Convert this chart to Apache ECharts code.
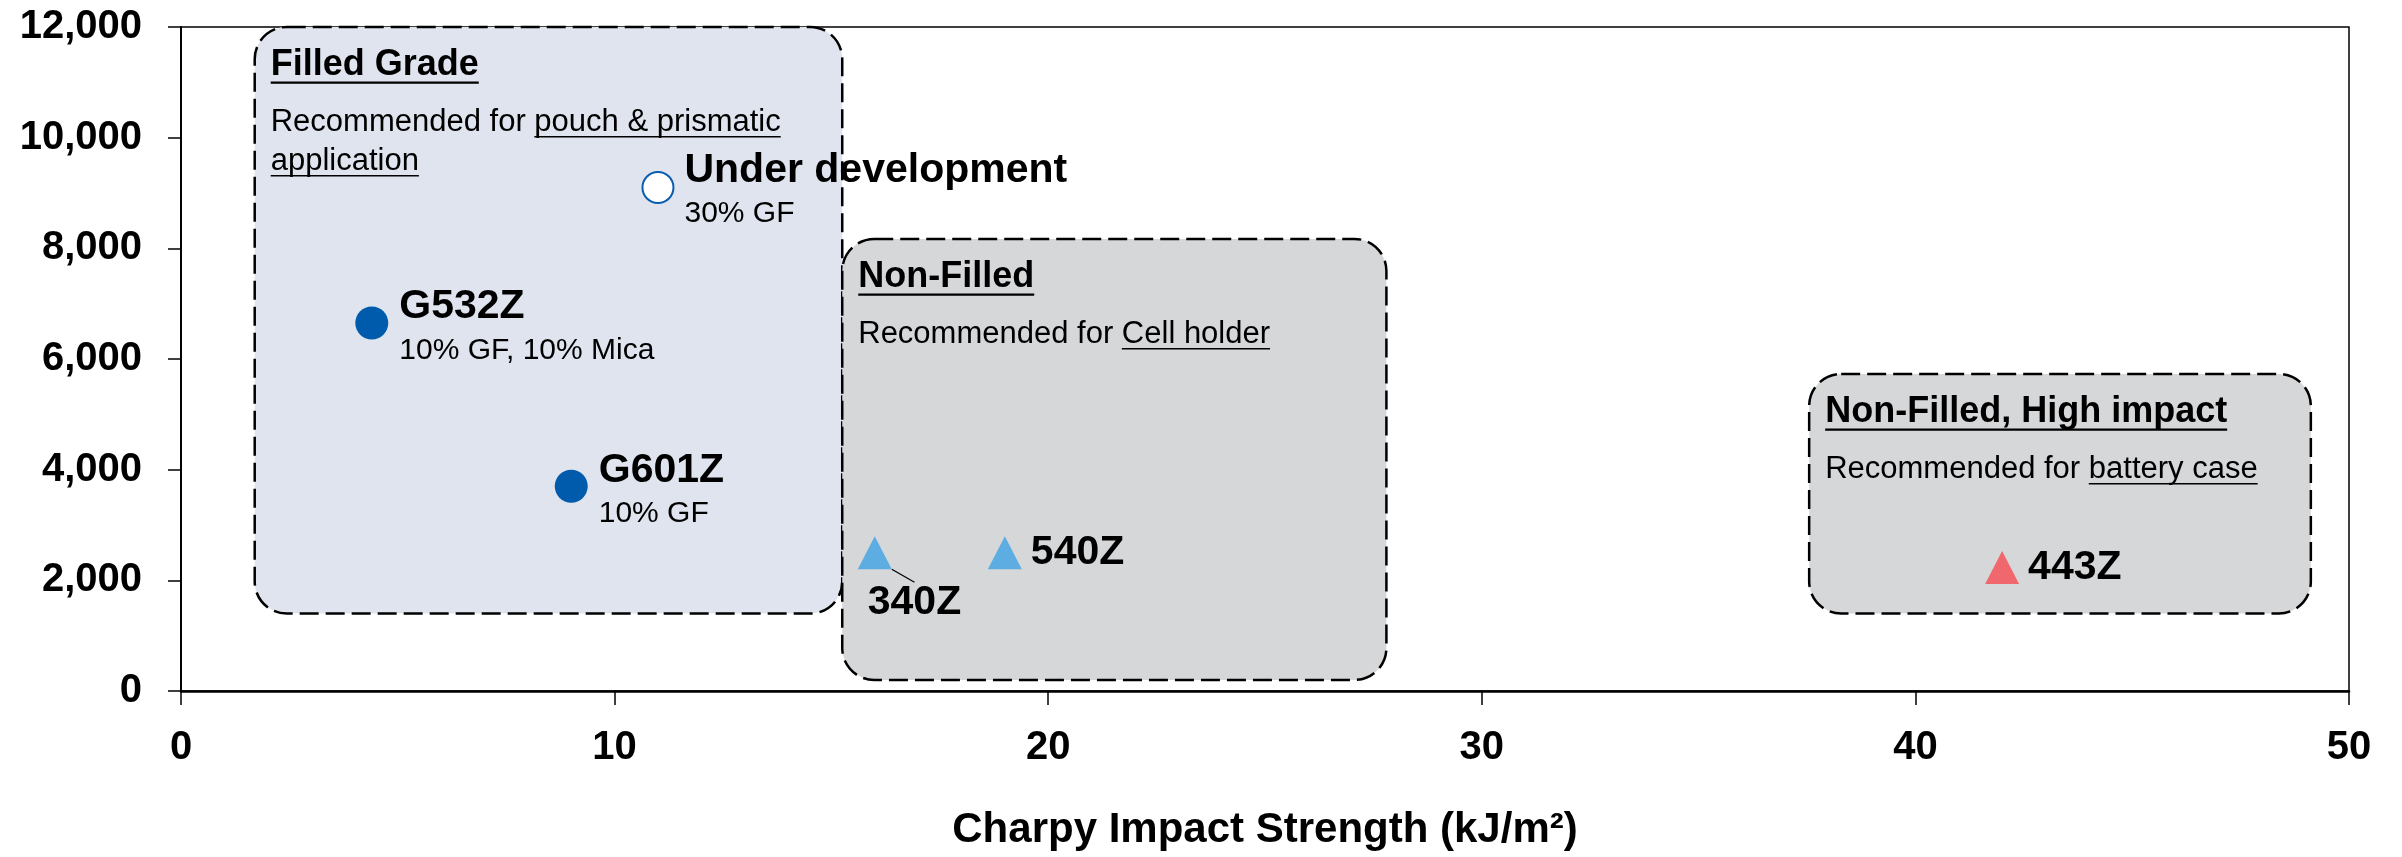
<!DOCTYPE html>
<html>
<head>
<meta charset="utf-8">
<script src="https://cdn.jsdelivr.net/npm/echarts@6/dist/echarts.min.js"></script>
<style>
html,body{margin:0;padding:0;background:#ffffff;}
#chart{width:2402px;height:857px;}
</style>
</head>
<body>
<div id="chart"></div>
<script>
// ---------------- DATA ----------------
const xTicks = [0, 10, 20, 30, 40, 50];
const yTicks = [0, 2000, 4000, 6000, 8000, 10000, 12000];
const xAxisTitle = 'Charpy Impact Strength (kJ/m\u00B2)';

const pointNames = ['Under development', 'G532Z', 'G601Z', '340Z', '540Z', '443Z'];
const pointNotes = ['30% GF', '10% GF, 10% Mica', '10% GF', '', '', ''];
const charpyValues = [11, 4.4, 9, 16, 19, 42];
const modulusValues = [9100, 6650, 3700, 2500, 2500, 2230];
const pointGroups = ['dev', 'filled', 'filled', 'nonfilled', 'nonfilled', 'high'];

const boxTitles = ['Filled Grade', 'Non-Filled', 'Non-Filled, High impact'];
const boxXStart = [1.7, 15.25, 37.55];
const boxXEnd = [15.25, 27.8, 49.12];
const boxYStart = [1400, 200, 1400];
const boxYEnd = [12000, 8170, 5730];
// each box: lines of [text, underlined]
const boxText = [
  [[['Recommended for ', false], ['pouch & prismatic', true]], [['application', true]]],
  [[['Recommended for ', false], ['Cell holder', true]]],
  [[['Recommended for ', false], ['battery case', true]]]
];

// ---------------- STYLE ----------------
const FONT = '"Liberation Sans", Arial, Helvetica, sans-serif';
const boxFills = ['#DFE4EE', '#D6D7D9', '#D6D7D9'];
const groupStyle = {
  dev:       { symbol: 'circle',   size: 31,       itemStyle: { color: '#ffffff', borderColor: '#0B5DB0', borderWidth: 2, opacity: 1 } },
  filled:    { symbol: 'circle',   size: 33,       itemStyle: { color: '#005BAC', opacity: 1 } },
  nonfilled: { symbol: 'triangle', size: [34, 33], itemStyle: { color: '#5DADE2', opacity: 1 } },
  high:      { symbol: 'triangle', size: [34, 33], itemStyle: { color: '#F0686E', opacity: 1 } }
};

const mctx = document.createElement('canvas').getContext('2d');
function textWidth(t, font) { mctx.font = font; return mctx.measureText(t).width; }

// ---------------- SERIES ----------------
const richStyles = {
  b: { fontFamily: FONT, fontWeight: 'bold', fontSize: 41, color: '#000000', lineHeight: 44 },
  s: { fontFamily: FONT, fontWeight: 'normal', fontSize: 30, color: '#000000', lineHeight: 43 }
};
const baseLabel = { show: true, color: '#000000', opacity: 1, textBorderWidth: 0, rich: richStyles };

function labelFor(i) {
  const g = groupStyle[pointGroups[i]];
  const sz = Array.isArray(g.size) ? g.size : [g.size, g.size];
  if (pointNotes[i]) {
    return Object.assign({}, baseLabel, { position: [27.5 + sz[0] / 2, -38 + sz[1] / 2],
             formatter: '{b|' + pointNames[i] + '}\n{s|' + pointNotes[i] + '}' });
  }
  if (pointNames[i] === '340Z') {
    return Object.assign({}, baseLabel, { position: [10, 44.5],
             formatter: '{b|' + pointNames[i] + '}' });
  }
  return Object.assign({}, baseLabel, { position: 'right', distance: 9,
           formatter: '{b|' + pointNames[i] + '}' });
}

const groupsOrder = ['dev', 'filled', 'nonfilled', 'high'];
const scatterSeries = groupsOrder.map(function (grp) {
  const g = groupStyle[grp];
  const data = [];
  pointNames.forEach(function (n, i) {
    if (pointGroups[i] !== grp) return;
    const d = { name: n, value: [charpyValues[i], modulusValues[i]], label: labelFor(i) };
    if (n === '340Z') {
      d.labelLine = { show: true, lineStyle: { color: '#000', width: 1.2 } };
    }
    data.push(d);
  });
  return {
    type: 'scatter', name: grp, z: 5,
    symbol: g.symbol, symbolSize: g.size,
    itemStyle: g.itemStyle,
    data: data,
    emphasis: { disabled: true }
  };
});

const boxData = boxTitles.map(function (t, i) {
  return [boxXStart[i], boxXEnd[i], boxYStart[i], boxYEnd[i]];
});

const boxSeries = {
  type: 'custom', z: 1, clip: false,
  encode: { x: [0, 1], y: [2, 3] },
  data: boxData,
  silent: true,
  renderItem: function (params, api) {
    const i = params.dataIndex;
    const tl = api.coord([api.value(0), api.value(3)]);
    const br = api.coord([api.value(1), api.value(2)]);
    const x = tl[0], y = tl[1], w = br[0] - tl[0], h = br[1] - tl[1];
    const children = [{
      type: 'rect',
      shape: { x: x, y: y, width: w, height: h, r: 32 },
      style: { fill: boxFills[i], stroke: '#000', lineWidth: 2.5, lineDash: [19, 7] }
    }];
    const tx = x + 16;
    // title
    const tSize = 36;
    const tFont = 'bold ' + tSize + 'px ' + FONT;
    const tBase = y + 51;
    children.push({ type: 'text', style: { text: boxTitles[i], x: tx, y: tBase - 0.3465 * tSize,
      font: tFont, fill: '#000', align: 'left', verticalAlign: 'middle' } });
    children.push({ type: 'rect', shape: { x: tx, y: tBase + 3.5, width: textWidth(boxTitles[i], tFont), height: 2.2 },
      style: { fill: '#000' } });
    // body lines
    const bSize = 31;
    const bFont = bSize + 'px ' + FONT;
    boxText[i].forEach(function (line, li) {
      const base = y + 106 + li * 39;
      let cx = tx;
      line.forEach(function (seg) {
        const segW = textWidth(seg[0], bFont);
        children.push({ type: 'text', style: { text: seg[0], x: cx, y: base - 0.3465 * bSize,
          font: bFont, fill: '#000', align: 'left', verticalAlign: 'middle' } });
        if (seg[1]) {
          children.push({ type: 'rect', shape: { x: cx, y: base + 3, width: segW, height: 1.6 },
            style: { fill: '#000' } });
        }
        cx += segW;
      });
    });
    return { type: 'group', children: children };
  }
};

// ---------------- CHART ----------------
const chart = echarts.init(document.getElementById('chart'), null, { renderer: 'canvas' });
chart.setOption({
  animation: false,
  backgroundColor: '#ffffff',
  grid: { left: 181, right: 53, top: 27, bottom: 166, show: true, borderColor: '#000', borderWidth: 1.5, backgroundColor: 'transparent' },
  xAxis: {
    type: 'value', min: xTicks[0], max: xTicks[xTicks.length - 1], interval: xTicks[1] - xTicks[0],
    name: xAxisTitle, nameLocation: 'middle', nameGap: 118,
    nameTextStyle: { fontFamily: FONT, fontWeight: 'bold', fontSize: 42, color: '#000' },
    axisLine: { show: true, onZero: false, lineStyle: { color: '#000', width: 2.5 } },
    axisTick: { show: true, inside: false, length: 14, lineStyle: { color: '#000', width: 1.5 } },
    axisLabel: { fontFamily: FONT, fontWeight: 'bold', fontSize: 40, color: '#000', margin: 37 },
    splitLine: { show: false }
  },
  yAxis: {
    type: 'value', min: yTicks[0], max: yTicks[yTicks.length - 1], interval: yTicks[1] - yTicks[0],
    axisLine: { show: true, onZero: false, lineStyle: { color: '#000', width: 2 } },
    axisTick: { show: true, inside: false, length: 13, lineStyle: { color: '#000', width: 1.5 } },
    axisLabel: { fontFamily: FONT, fontWeight: 'bold', fontSize: 40, color: '#000', margin: 39,
      formatter: function (v) { return v.toLocaleString('en-US'); } },
    splitLine: { show: false }
  },
  series: [boxSeries].concat(scatterSeries)
});
</script>
</body>
</html>
